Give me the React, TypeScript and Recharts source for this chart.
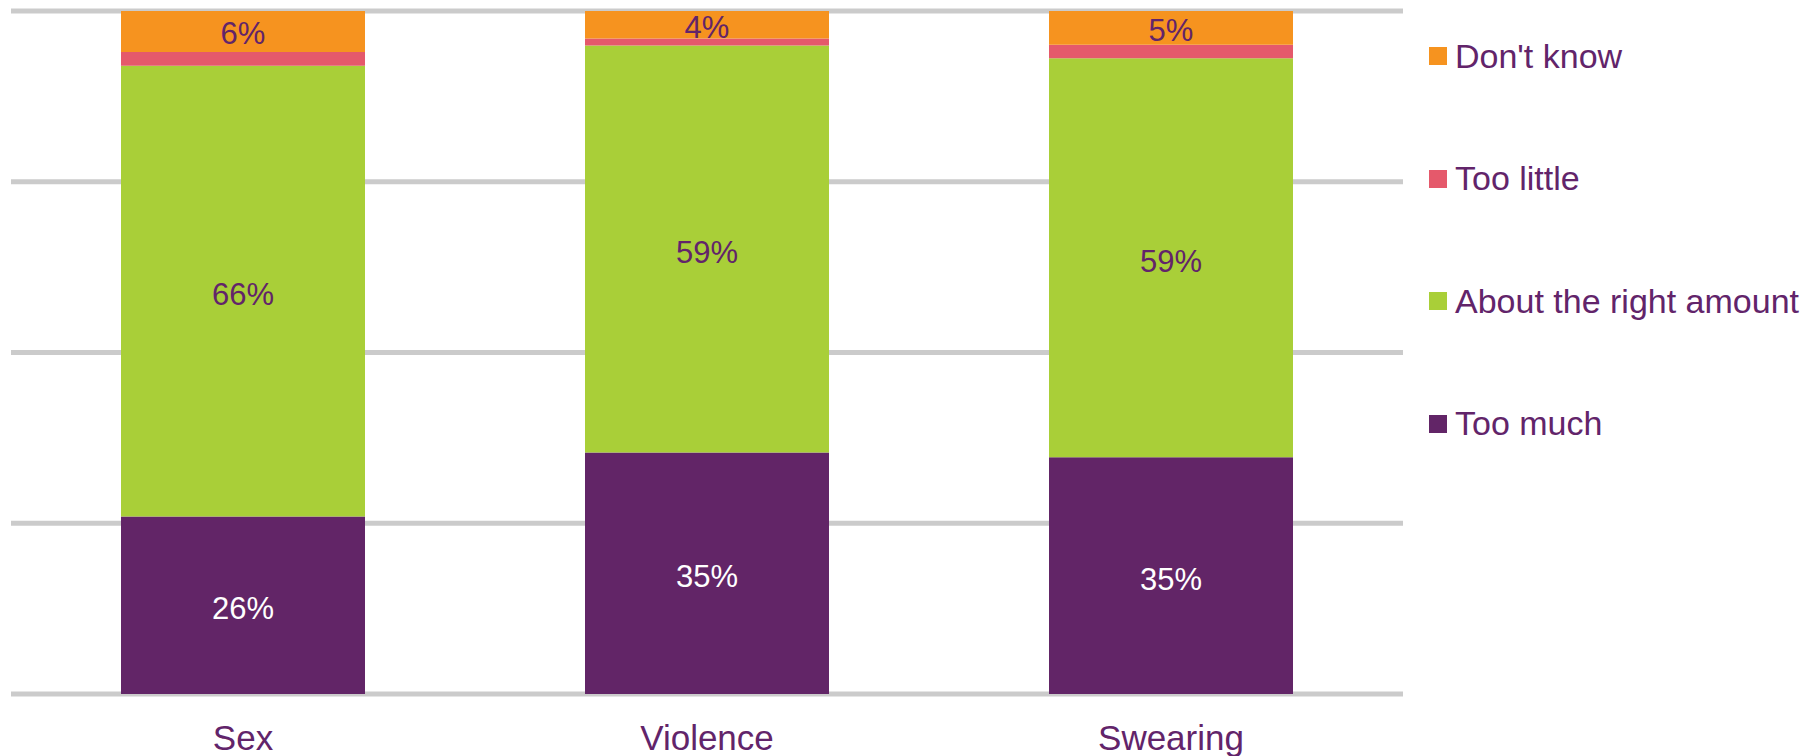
import { BarChart, Bar, XAxis, YAxis, CartesianGrid, LabelList } from "recharts"

const categories = ["Sex", "Violence", "Swearing"]
const tooMuch = [26, 35, 35]
const aboutRight = [66, 59, 59]
const tooLittle = [2, 1, 2]
const dontKnow = [6, 4, 5]

const TEXT = "#62246a"
const FONT = "'Liberation Sans', Arial, sans-serif"

const series = [
  { key: "dontKnow", name: "Don't know", color: "#f6931f" },
  { key: "tooLittle", name: "Too little", color: "#e5596b" },
  { key: "aboutRight", name: "About the right amount", color: "#a9cf38" },
  { key: "tooMuch", name: "Too much", color: "#622567" },
]

const data = categories.map((name, i) => ({
  name,
  tooMuch: tooMuch[i],
  aboutRight: aboutRight[i],
  tooLittle: tooLittle[i],
  dontKnow: dontKnow[i],
}))

const pct = (v: any) => `${v}%`

function AxisTick({ x, y, payload }: any) {
  return (
    <text x={x} y={y + 56} textAnchor="middle" fill={TEXT} fontSize={35} fontFamily={FONT}>
      {payload.value}
    </text>
  )
}

// legend sits to the right, outside the plot
function LegendBox() {
  return (
    <div style={{ position: "absolute", left: 1429, top: 0, fontFamily: FONT }}>
      {series.map((s, i) => (
        <div
          key={s.key}
          style={{
            position: "absolute",
            left: 0,
            top: 56 + i * 122.5 - 20,
            height: 40,
            display: "flex",
            alignItems: "center",
            whiteSpace: "nowrap",
          }}
        >
          <span style={{ width: 18, height: 18, background: s.color, display: "inline-block", marginRight: 8 }} />
          <span style={{ color: TEXT, fontSize: 34 }}>{s.name}</span>
        </div>
      ))}
    </div>
  )
}

export default function App() {
  return (
    <div style={{ position: "absolute", left: 0, top: 0, width: 1813, height: 756, background: "#fff" }}>
      <BarChart
        width={1813}
        height={756}
        data={data}
        stackOffset="expand"
        margin={{ top: 11, right: 410, bottom: 32, left: 11 }}
      >
        <CartesianGrid vertical={false} stroke="#cbcbcb" strokeWidth={5} />
        <XAxis dataKey="name" height={30} axisLine={false} tickLine={false} tickSize={0} tickMargin={0} tick={<AxisTick />} interval={0} />
        <YAxis hide domain={[0, 1]} ticks={[0, 0.25, 0.5, 0.75, 1]} />
        <Bar dataKey="tooMuch" name="Too much" stackId="a" fill="#622567" barSize={244} isAnimationActive={false}>
          <LabelList dataKey="tooMuch" position="center" dy={3} fill="#ffffff" fontSize={31} fontFamily={FONT} formatter={pct} />
        </Bar>
        <Bar dataKey="aboutRight" name="About the right amount" stackId="a" fill="#a9cf38" barSize={244} isAnimationActive={false}>
          <LabelList dataKey="aboutRight" position="center" dy={3} fill={TEXT} fontSize={31} fontFamily={FONT} formatter={pct} />
        </Bar>
        <Bar dataKey="tooLittle" name="Too little" stackId="a" fill="#e5596b" barSize={244} isAnimationActive={false} />
        <Bar dataKey="dontKnow" name="Don't know" stackId="a" fill="#f6931f" barSize={244} isAnimationActive={false}>
          <LabelList dataKey="dontKnow" position="center" dy={2} fill={TEXT} fontSize={31} fontFamily={FONT} formatter={pct} />
        </Bar>
      </BarChart>
      <LegendBox />
    </div>
  )
}
